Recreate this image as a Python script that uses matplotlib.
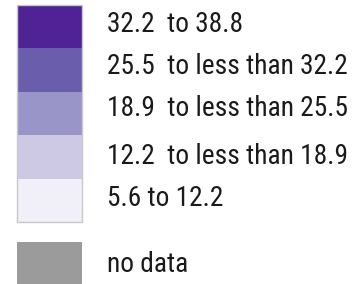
import matplotlib.pyplot as plt
from matplotlib import font_manager

# legend classes, top to bottom
labels = ['32.2  to 38.8', '25.5  to less than 32.2', '18.9  to less than 25.5',
          '12.2  to less than 18.9', '5.6 to 12.2']
colors = ['#4f2396', '#6a5dab', '#9a95c9', '#cdc8e3', '#f1eff7']
nodata_label = 'no data'
nodata_color = '#9b9b9b'

# pick a narrow font if there is one
fonts = [(f.name, f.stretch) for f in font_manager.fontManager.ttflist]
print(sorted(set(fonts)))
fam, stretch = 'DejaVu Sans', 'normal'
for name in ['Liberation Sans Narrow', 'Roboto Condensed', 'Open Sans Condensed']:
    if any(n == name for n, s in fonts):
        fam = name
        break
else:
    if ('DejaVu Sans', 'condensed') in fonts or ('DejaVu Sans', 'semi-condensed') in fonts:
        stretch = 'condensed'

fig = plt.figure(figsize=(3.55, 2.84), dpi=100)
ax = fig.add_axes([0, 0, 1, 1])
ax.set_xlim(0, 355)
ax.set_ylim(284, 0)
ax.axis('off')

band_top = 5
band_h = 43.4
tops = [band_top + i * band_h for i in range(len(labels))]
ax.bar([49.5] * len(labels), [band_h] * len(labels), width=65, bottom=tops,
       color=colors, edgecolor='none')
# thin frame around the colour column
ax.add_patch(plt.Rectangle((17, band_top), 65, band_h * len(labels),
                           fill=False, ec='#c9c9cc', lw=1.0))
ax.bar([49.5], [45], width=65, bottom=[242], color=nodata_color, edgecolor='none')

# size the text so the longest label spans about 240 px, like the reference
r = fig.canvas.get_renderer()
probe = ax.text(0, 0, labels[1], fontsize=20, family=fam, stretch=stretch)
w = probe.get_window_extent(r).width
probe.remove()
fs = min(20 * 240 / w, 20)

text_y = [25, 67, 109, 156, 199]
for y, lab in zip(text_y, labels):
    ax.text(107, y, lab, fontsize=fs, family=fam, stretch=stretch, color='#1a1a1a',
            va='center', ha='left')
ax.text(107, 264, nodata_label, fontsize=fs, family=fam, stretch=stretch, color='#1a1a1a',
        va='center', ha='left')

fig.savefig('out.png', dpi=100)
